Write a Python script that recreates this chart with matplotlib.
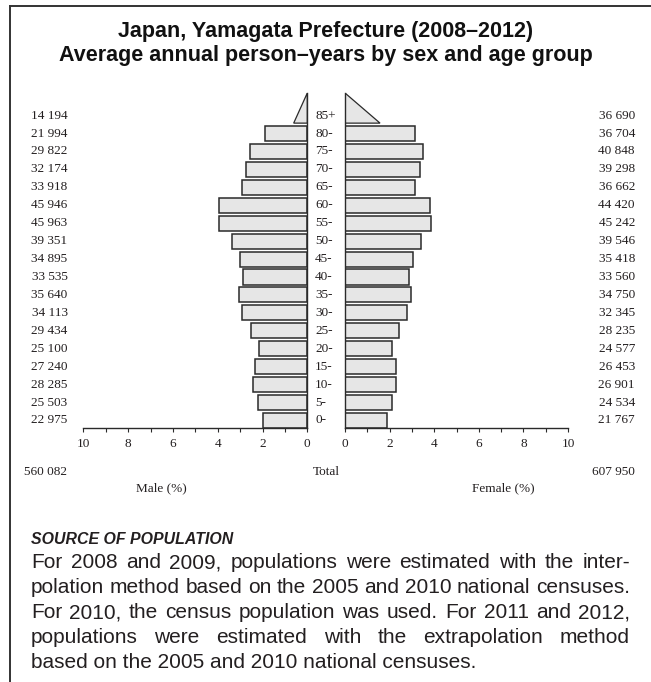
import matplotlib
matplotlib.use("Agg")
import matplotlib.pyplot as plt
from matplotlib.patches import Polygon
from matplotlib.transforms import blended_transform_factory

# age groups, bottom to top
age_groups = ["0-", "5-", "10-", "15-", "20-", "25-", "30-", "35-", "40-",
              "45-", "50-", "55-", "60-", "65-", "70-", "75-", "80-", "85+"]
male_counts = [22975, 25503, 28285, 27240, 25100, 29434, 34113, 35640, 33535,
               34895, 39351, 45963, 45946, 33918, 32174, 29822, 21994, 14194]
female_counts = [21767, 24534, 26901, 26453, 24577, 28235, 32345, 34750, 33560,
                 35418, 39546, 45242, 44420, 36662, 39298, 40848, 36704, 36690]
male_total = 560082
female_total = 607950
x_ticks = [0, 2, 4, 6, 8, 10]

title_lines = ["Japan, Yamagata Prefecture (2008\u20132012)",
               "Average annual person\u2013years by sex and age group"]
source_title = "SOURCE OF POPULATION"
source_lines = [
    "For 2008 and 2009, populations were estimated with the inter-",
    "polation method based on the 2005 and 2010 national censuses.",
    "For 2010, the census population was used. For 2011 and 2012,",
    "populations were estimated with the extrapolation method",
    "based on the 2005 and 2010 national censuses.",
]

W, H = 651, 682
BAR_FILL = "#e6e6e6"
EDGE = "#2a2a2a"
TEXT = "#231f20"
SERIF = "Liberation Serif"
SANS = "Liberation Sans"

grand_total = male_total + female_total
male_pct = [c / grand_total * 100 for c in male_counts]
female_pct = [c / grand_total * 100 for c in female_counts]

fig = plt.figure(figsize=(W / 100, H / 100), dpi=100)
renderer = fig.canvas.get_renderer()


def fx(px):
    return px / W


def fy(py):
    return 1 - py / H


def fit_size(text, target_px, **kw):
    probe = fig.text(0, 0, text, fontsize=10, **kw)
    width = probe.get_window_extent(renderer).width
    probe.remove()
    return 10 * target_px / width


bar_h = 0.84
y_bottom = -bar_h / 2
tri_base = len(age_groups) - 1 - bar_h / 2
tri_top = tri_base + 2 * bar_h

ax_bottom, ax_top = 428, 93
ax_m = fig.add_axes([fx(83.3), fy(ax_bottom), (307.3 - 83.3) / W, (ax_bottom - ax_top) / H])
ax_f = fig.add_axes([fx(345), fy(ax_bottom), (568 - 345) / W, (ax_bottom - ax_top) / H])

for axis, values, side in [(ax_m, male_pct, "m"), (ax_f, female_pct, "f")]:
    n = len(values)
    axis.barh(range(n - 1), values[:-1], height=bar_h, color=BAR_FILL,
              edgecolor=EDGE, linewidth=1.1, zorder=2)
    # open-ended group drawn as a triangle
    base = values[-1] / 2
    tri = Polygon([(0, tri_base), (base, tri_base), (0, tri_top)], closed=True,
                  facecolor=BAR_FILL, edgecolor=EDGE, linewidth=0.9, zorder=2)
    axis.add_patch(tri)
    axis.set_ylim(y_bottom, tri_top)
    axis.set_xlim(0, 10)
    axis.set_yticks([])
    axis.set_xticks(x_ticks)
    axis.set_xticks(range(11), minor=True)
    axis.set_xticklabels([str(t) for t in x_ticks], fontfamily=SERIF, fontsize=9.5, color=TEXT)
    axis.tick_params(axis="x", which="both", direction="out", length=3, width=0.8,
                     colors=EDGE, pad=4)
    axis.tick_params(axis="x", labelcolor=TEXT)
    axis.spines["top"].set_visible(False)
    axis.patch.set_alpha(0)
    for sp in ["bottom", "left", "right"]:
        axis.spines[sp].set_color(EDGE)
        axis.spines[sp].set_linewidth(1.0)
    if side == "m":
        axis.invert_xaxis()
        axis.spines["left"].set_visible(False)
    else:
        axis.spines["right"].set_visible(False)

# row labels
row_tr = blended_transform_factory(fig.transFigure, ax_m.transData)
for i, age in enumerate(age_groups):
    fig.text(fx(67.5), i, f"{male_counts[i]:,}".replace(",", " "), transform=row_tr,
             ha="right", va="center", fontfamily=SERIF, fontsize=9.5, color=TEXT)
    fig.text(fx(635), i, f"{female_counts[i]:,}".replace(",", " "), transform=row_tr,
             ha="right", va="center", fontfamily=SERIF, fontsize=9.5, color=TEXT)
    fig.text(fx(315), i, age, transform=row_tr, ha="left", va="center",
             fontfamily=SERIF, fontsize=9.5, color=TEXT)

# totals and axis captions
fig.text(fx(67.5), fy(472), f"{male_total:,}".replace(",", " "), ha="right", va="center",
         fontfamily=SERIF, fontsize=9.5, color=TEXT)
fig.text(fx(635), fy(472), f"{female_total:,}".replace(",", " "), ha="right", va="center",
         fontfamily=SERIF, fontsize=9.5, color=TEXT)
fig.text(fx(326), fy(472), "Total", ha="center", va="center",
         fontfamily=SERIF, fontsize=9.5, color=TEXT)
fig.text(fx(161), fy(488), "Male (%)", ha="center", va="center",
         fontfamily=SERIF, fontsize=9.5, color=TEXT)
fig.text(fx(503), fy(488), "Female (%)", ha="center", va="center",
         fontfamily=SERIF, fontsize=9.5, color=TEXT)

# title
title_size = 15.5
for k, line in enumerate(title_lines):
    fig.text(fx(326), fy(32 + k * 24), line, ha="center", va="center", fontfamily=SANS,
             fontweight="bold", fontsize=title_size, color="#111111")

# frame lines (top and left)
fig.add_artist(plt.Line2D([fx(10), 1], [fy(6), fy(6)], color="#333333", linewidth=1.4))
fig.add_artist(plt.Line2D([fx(10), fx(10)], [fy(6), 0], color="#333333", linewidth=1.4))

# source note
head_size = fit_size(source_title, 202, fontfamily=SANS, fontweight="bold", fontstyle="italic")
fig.text(fx(31), fy(540), source_title, ha="left", va="center", fontfamily=SANS,
         fontweight="bold", fontstyle="italic", fontsize=head_size, color=TEXT)

x0, x1 = 31, 630
body_size = fit_size(source_lines[1], x1 - x0, fontfamily=SANS)
line_y0, line_step = 563, 24.8
for k, line in enumerate(source_lines):
    y = fy(line_y0 + k * line_step)
    words = line.split(" ")
    if k == len(source_lines) - 1:
        fig.text(fx(x0), y, line, ha="left", va="center", fontfamily=SANS,
                 fontsize=body_size, color=TEXT)
        continue
    objs = [fig.text(0, y, w, ha="left", va="center", fontfamily=SANS,
                     fontsize=body_size, color=TEXT) for w in words]
    widths = [o.get_window_extent(renderer).width for o in objs]
    gap = (x1 - x0 - sum(widths)) / (len(words) - 1)
    cur = x0
    for o, w in zip(objs, widths):
        o.set_x(fx(cur))
        cur += w + gap

fig.savefig("out.png", dpi=100)
